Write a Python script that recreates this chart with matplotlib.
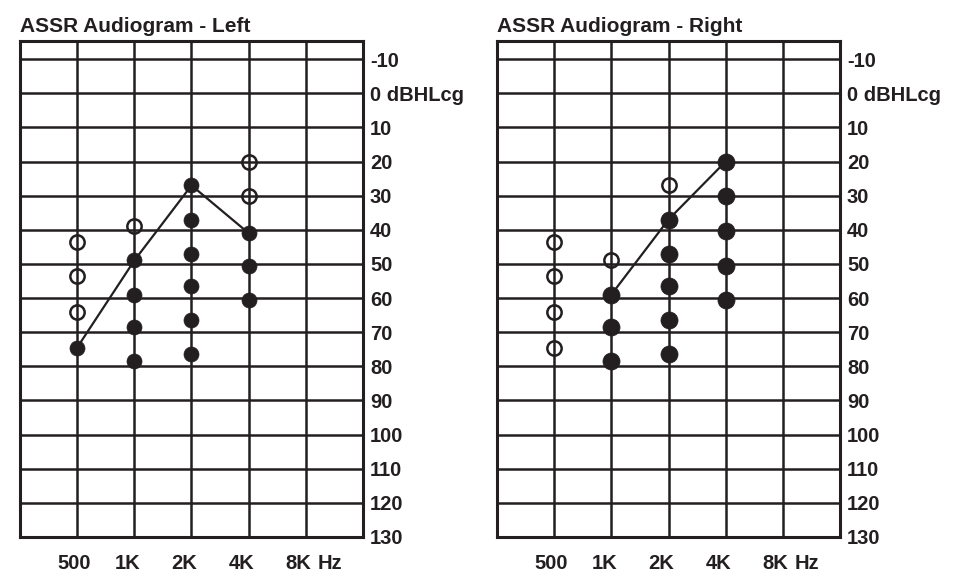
import matplotlib
matplotlib.use("Agg")
import matplotlib.pyplot as plt
import matplotlib.transforms as mtransforms

# ---- data ----
freqs = [500, 1000, 2000, 4000, 8000]
freq_labels = ["500", "1K", "2K", "4K", "8K"]
db_ticks = [-10, 0, 10, 20, 30, 40, 50, 60, 70, 80, 90, 100, 110, 120, 130]
db_labels = ["-10", "0 dBHLcg", "10", "20", "30", "40", "50", "60", "70",
             "80", "90", "100", "110", "120", "130"]

left_open_freq = [500, 500, 500, 1000, 4000, 4000]
left_open_db = [43.5, 53.5, 64, 39, 20, 30]
left_filled_freq = [500, 1000, 1000, 1000, 1000,
                    2000, 2000, 2000, 2000, 2000, 2000,
                    4000, 4000, 4000]
left_filled_db = [74.5, 49, 59, 68.5, 78.5,
                  27, 37, 47, 56.5, 66.5, 76.5,
                  41, 50.5, 60.5]
left_line_freq = [500, 1000, 2000, 4000]
left_line_db = [74.5, 49, 27, 41]

right_open_freq = [500, 500, 500, 500, 1000, 2000]
right_open_db = [43.5, 53.5, 64, 74.5, 49, 27]
right_filled_freq = [1000, 1000, 1000,
                     2000, 2000, 2000, 2000, 2000,
                     4000, 4000, 4000, 4000, 4000]
right_filled_db = [59, 68.5, 78.5,
                   37, 47, 56.5, 66.5, 76.5,
                   20, 30, 40.5, 50.5, 60.5]
right_line_freq = [1000, 2000, 4000]
right_line_db = [59, 37, 20]

INK = "#231f20"
W, H = 955, 580
fig = plt.figure(figsize=(W / 100, H / 100), dpi=100)
plt.rcParams['font.family'] = ['Liberation Sans', 'DejaVu Sans']


def panel(x0, title, open_f, open_d, fill_f, fill_d, line_f, line_d, fill_ms):
    x1 = x0 + 343
    y0, y1 = 41, 537
    ax = fig.add_axes([x0 / W, 1 - y1 / H, (x1 - x0) / W, (y1 - y0) / H])
    ax.set_xscale('log', base=2)
    ax.set_xlim(250, 16000)
    ax.set_ylim(130, -15.3)
    ax.set_xticks(freqs)
    ax.set_xticklabels([])
    ax.xaxis.set_minor_locator(matplotlib.ticker.NullLocator())
    ax.set_yticks(db_ticks)
    ax.set_yticklabels(db_labels, fontsize=14.5, fontweight='bold', color=INK)
    ax.yaxis.tick_right()
    ax.tick_params(axis='both', length=0)
    ax.tick_params(axis='y', pad=5)
    ax.grid(True, color=INK, linewidth=1.8)
    ax.set_axisbelow(True)
    for s in ax.spines.values():
        s.set_color(INK)
        s.set_linewidth(2.2)
    ax.plot(line_f, line_d, color=INK, linewidth=1.6, zorder=3)
    ax.plot(open_f, open_d, linestyle='none', marker='o', markersize=10.3,
            markerfacecolor='none', markeredgecolor=INK, markeredgewidth=1.8,
            zorder=4)
    ax.plot(fill_f, fill_d, linestyle='none', marker='o', markersize=fill_ms,
            markerfacecolor=INK, markeredgecolor=INK, markeredgewidth=0.5,
            zorder=5)
    trans = mtransforms.blended_transform_factory(ax.transData, ax.transAxes)
    for f, lab in zip(freqs, freq_labels):
        t = mtransforms.offset_copy(trans, fig=fig, x=-20, y=0, units='dots')
        ax.text(f, -0.054, lab, transform=t, ha='left', va='center',
                fontsize=14.5, fontweight='bold', color=INK)
    t = mtransforms.offset_copy(trans, fig=fig, x=12, y=0, units='dots')
    ax.text(8000, -0.054, "Hz", transform=t, ha='left', va='center',
            fontsize=14.5, fontweight='bold', color=INK)
    fig.text(x0 / W, 1 - 32 / H, title, ha='left', va='baseline',
             fontsize=15, fontweight='bold', color=INK)
    return ax


panel(20, "ASSR Audiogram - Left", left_open_freq, left_open_db,
      left_filled_freq, left_filled_db, left_line_freq, left_line_db, 10.8)
panel(497, "ASSR Audiogram - Right", right_open_freq, right_open_db,
      right_filled_freq, right_filled_db, right_line_freq, right_line_db, 12.3)

fig.savefig("out.png", dpi=100)
